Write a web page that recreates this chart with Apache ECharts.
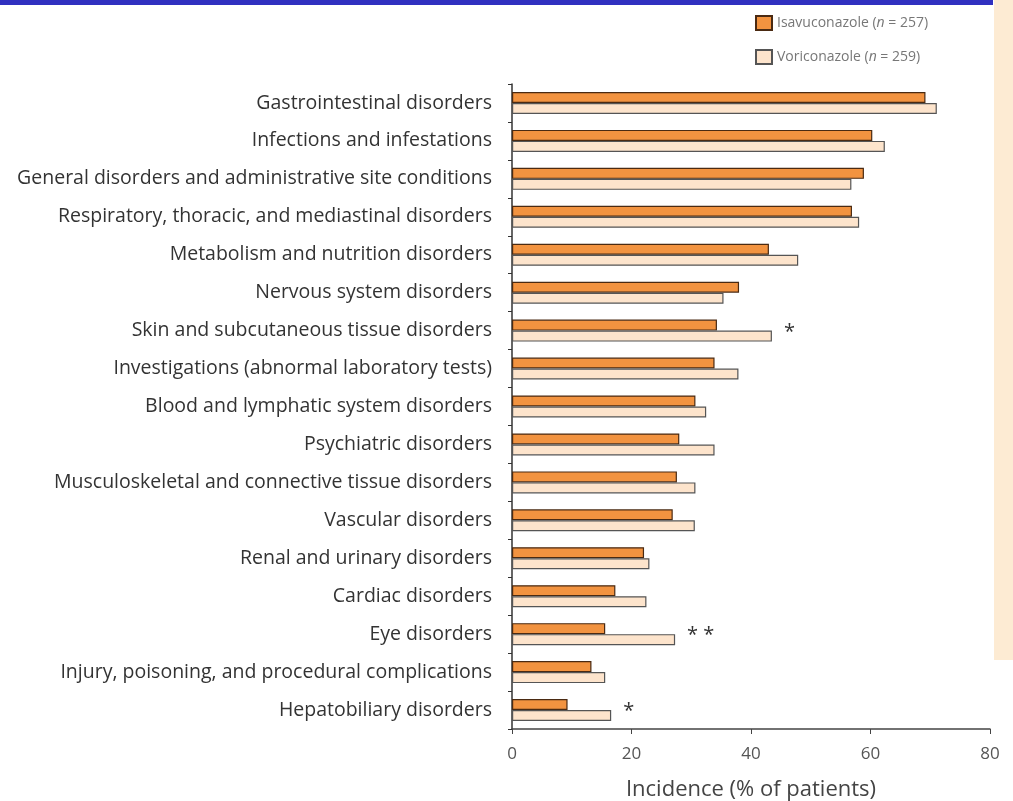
<!DOCTYPE html>
<html>
<head>
<meta charset="utf-8">
<script src="https://cdn.jsdelivr.net/npm/echarts@6/dist/echarts.min.js"></script>
<style>
  html, body { margin: 0; padding: 0; background: #fff; }
  #chart { width: 1013px; height: 801px; }
</style>
</head>
<body>
<div id="chart"></div>
<script>
// categories, top to bottom as in the figure
const categories = [
  'Gastrointestinal disorders',
  'Infections and infestations',
  'General disorders and administrative site conditions',
  'Respiratory, thoracic, and mediastinal disorders',
  'Metabolism and nutrition disorders',
  'Nervous system disorders',
  'Skin and subcutaneous tissue disorders',
  'Investigations (abnormal laboratory tests)',
  'Blood and lymphatic system disorders',
  'Psychiatric disorders',
  'Musculoskeletal and connective tissue disorders',
  'Vascular disorders',
  'Renal and urinary disorders',
  'Cardiac disorders',
  'Eye disorders',
  'Injury, poisoning, and procedural complications',
  'Hepatobiliary disorders'
];
const isavuconazole = [69.2, 60.3, 58.9, 56.9, 43, 38, 34.3, 33.9, 30.7, 28, 27.6, 26.9, 22.1, 17.3, 15.6, 13.3, 9.3];
const voriconazole = [71.1, 62.4, 56.8, 58.1, 47.9, 35.4, 43.5, 37.9, 32.5, 33.9, 30.7, 30.6, 23, 22.5, 27.3, 15.6, 16.6];
const significance = ['', '', '', '', '', '', '*', '', '', '', '', '', '', '', '**', '', '*'];
const xTicks = [0, 20, 40, 60, 80];

const chart = echarts.init(document.getElementById('chart'));

const option = {
  animation: false,
  textStyle: { fontFamily: 'Open Sans' },
  graphic: [
    { type: 'rect', shape: { x: 0, y: 0, width: 993, height: 5 }, style: { fill: '#3030c0' } },
    { type: 'rect', shape: { x: 994, y: 0, width: 19, height: 660 }, style: { fill: '#fdebd3' } }
  ],
  legend: {
    orient: 'vertical',
    left: 750,
    top: 10,
    icon: 'rect',
    itemWidth: 16,
    itemHeight: 14,
    itemGap: 18,
    data: ['Isavuconazole', 'Voriconazole'],
    formatter: function (name) {
      return name === 'Isavuconazole'
        ? '{a|Isavuconazole (}{i|n}{a| = 257)}'
        : '{a|Voriconazole (}{i|n}{a| = 259)}';
    },
    textStyle: {
      rich: {
        a: { color: '#777', fontSize: 14, fontFamily: 'Open Sans' },
        i: { color: '#777', fontSize: 14, fontStyle: 'italic', fontFamily: 'Open Sans' }
      }
    }
  },
  grid: { left: 512, right: 23, top: 84, bottom: 72, outerBoundsMode: 'none' },
  xAxis: {
    type: 'value',
    min: 0,
    max: 80,
    interval: 20,
    name: 'Incidence (% of patients)',
    nameLocation: 'middle',
    nameGap: 50,
    nameTextStyle: { color: '#444', fontSize: 22 },
    axisLine: { show: true, lineStyle: { color: '#444', width: 1.5 } },
    axisTick: { show: true, length: 5, lineStyle: { color: '#444' } },
    axisLabel: {
      color: '#555',
      fontSize: 17,
      margin: 17,
      formatter: function (v) { return xTicks.indexOf(v) >= 0 ? String(v) : ''; }
    },
    splitLine: { show: false }
  },
  yAxis: {
    type: 'category',
    inverse: true,
    data: categories,
    axisLine: { show: true, lineStyle: { color: '#333', width: 1.5 } },
    axisTick: { show: true, length: 4, lineStyle: { color: '#333' } },
    axisLabel: { color: '#333', fontSize: 19.5, margin: 20 }
  },
  series: [
    {
      name: 'Isavuconazole',
      type: 'bar',
      data: isavuconazole,
      barWidth: 11,
      barGap: '0%',
      itemStyle: { color: '#f29340', borderColor: '#4a2a12', borderWidth: 1.2 }
    },
    {
      name: 'Voriconazole',
      type: 'bar',
      data: voriconazole.map(function (v, i) {
        return {
          value: v,
          label: {
            show: significance[i] !== '',
            formatter: significance[i].split('').join(' ')
          }
        };
      }),
      barWidth: 11,
      itemStyle: { color: '#fde4cc', borderColor: '#555', borderWidth: 1.2 },
      label: {
        position: 'right',
        distance: 12,
        offset: [0, -4],
        color: '#333',
        fontSize: 20
      }
    }
  ]
};

chart.setOption(option);
</script>
</body>
</html>
